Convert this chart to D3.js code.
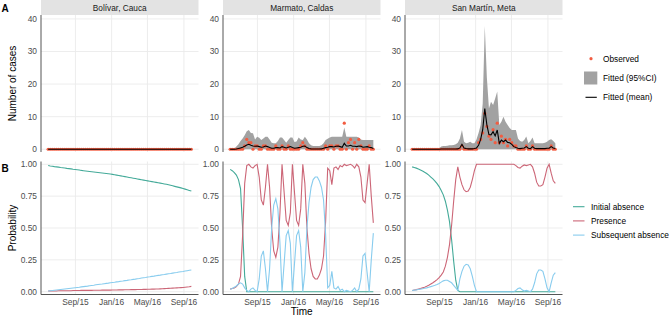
<!DOCTYPE html>
<html>
<head>
<meta charset="utf-8">
<script src="https://cdn.jsdelivr.net/npm/d3@7"></script>
<style>
  body { margin: 0; background: #fff; }
  svg { font-family: "Liberation Sans", Arial, sans-serif; display: block; }
</style>
</head>
<body>
<svg id="chart" width="669" height="316"></svg>
<script>
// sites (facets)
const sites = ["Bolívar, Cauca", "Marmato, Caldas", "San Martín, Meta"];

// weekly time points, first week Jun 2015 to last week Sep 2016
const weeks = d3.timeMonday.range(new Date(2015, 5, 1), new Date(2016, 8, 27));

const xTickDates = [new Date(2015, 8, 1), new Date(2016, 0, 1), new Date(2016, 4, 1), new Date(2016, 8, 1)];
const xTickLabels = ["Sep/15", "Jan/16", "May/16", "Sep/16"];
const casesTicks = [0, 10, 20, 30, 40];
const probTicks = [0, 0.25, 0.5, 0.75, 1];

// ---- panel A: observed cases and fitted model ----
const bolivarZeros = [
  0,0,0,0,0,0,0,0,0,0, 0,0,0,0,0,0,0,0,0,0, 0,0,0,0,0,0,0,0,0,0,
  0,0,0,0,0,0,0,0,0,0, 0,0,0,0,0,0,0,0,0,0, 0,0,0,0,0,0,0,0,0,0,
  0,0,0,0,0,0,0,0,0,0];

const marmatoObserved = [
  0,0,0,0,0,0,0,1,3,2, 2,0,1,1,0,0,1,1,0,0, 0,0,1,0,0,1,0,0,1,0,
  0,0,0,0,1,2,1,0,0,0, 0,0,0,0,0,0,1,0,1,1, 0,1,1,0,0,8,0,2,3,0,
  2,0,3,1,0,0,0,1,0,0];
const marmatoMean = [
  0,0,0,0.05,0.2,0.4,0.6,0.9,1.3,1.5, 1.2,1.0,0.9,1.0,0.8,0.6,0.7,1.0,0.8,0.5,
  0.3,0.3,0.5,0.5,0.4,0.8,0.6,0.4,0.6,0.8, 0.5,0.3,0.4,0.5,0.6,0.9,1.0,0.5,0.2,0.1,
  0.05,0.05,0.05,0.05,0.1,0.3,0.5,0.6,0.8,0.8, 0.7,0.9,1.0,0.8,0.6,1.8,1.0,1.0,1.2,0.9,
  0.9,0.8,1.0,0.9,0.6,0.7,0.8,0.6,0.5,0.2];
const marmatoUpper = [
  0.2,0.2,0.2,0.8,1.5,2.5,3.3,4.3,5.5,5.9, 5.0,4.9,3.0,3.8,3.5,2.8,3.3,3.8,3.8,3.0,
  2.0,1.8,1.8,2.5,3.6,3.6,2.8,2.0,2.8,3.6, 3.6,2.2,2.4,3.6,3.0,2.8,3.8,3.0,1.8,1.2,
  1.0,1.0,1.0,1.0,1.2,1.8,2.8,3.2,3.6,3.8, 3.8,3.8,3.8,3.8,3.8,6.7,3.8,3.8,3.8,3.8,
  3.8,3.8,3.6,3.0,2.8,2.8,2.8,2.8,2.8,2.8];

const sanMartinObserved = [
  0,0,0,0,0,0,0,0,0,0, 0,0,0,0,0,0,0,0,0,0, 0,0,0,0,1,0,0,0,0,0,
  0,0,2,3,5,11,7,4,3,6, 2,8,2,4,2,3,1,3,2,1, 1,0,0,0,0,1,0,0,1,0,
  0,0,0,0,0,0,0,1,0,0];
const sanMartinMean = [
  0,0,0,0,0,0,0,0,0,0, 0,0,0,0,0.05,0.05,0.05,0.05,0.05,0.05,
  0.05,0.05,0.1,0.4,1.5,0.4,0.2,0.1,0.1,0.1, 0.2,0.4,1.2,3.0,6.0,12.5,7.5,4.5,4.4,5.4,
  4.1,5.9,1.8,2.8,2.3,2.8,2.1,2.0,1.5,0.8, 0.5,0.3,0.2,0.3,0.4,0.8,0.3,0.2,0.8,0.3,
  0.2,0.2,0.2,0.2,0.2,0.3,0.3,0.8,0.4,0.2];
const sanMartinUpper = [
  0.1,0.1,0.1,0.1,0.1,0.1,0.1,0.1,0.1,0.1, 0.1,0.1,0.1,0.3,0.8,1.0,1.0,1.1,1.2,1.2,
  1.3,1.5,2.0,3.3,5.9,2.3,1.8,2.0,2.3,1.8, 1.8,3.0,5.0,7.4,14,37.8,22,12.5,14.6,13.6,
  15.6,17.7,7.4,8.4,10.0,8.4,7.4,6.5,5.9,5.9, 5.9,3.3,2.5,2.3,2.8,3.9,1.8,2.5,3.6,1.8,
  1.8,1.8,1.8,1.8,2.0,2.3,2.8,3.1,2.5,1.8];

const observed = [bolivarZeros, marmatoObserved, sanMartinObserved];
const fittedMean = [bolivarZeros, marmatoMean, sanMartinMean];
const fittedLower = [bolivarZeros, bolivarZeros, bolivarZeros];
const fittedUpper = [bolivarZeros, marmatoUpper, sanMartinUpper];

// ---- panel B: state probabilities ----
const bolivarInitial = [
  .990,.987,.985,.982,.980,.978,.975,.973,.971,.968, .966,.964,.961,.959,.957,.955,.952,.950,.948,.946,
  .944,.942,.940,.938,.936,.934,.932,.930,.928,.926, .924,.921,.918,.915,.912,.909,.906,.903,.900,.897,
  .894,.891,.888,.885,.882,.879,.876,.873,.870,.867, .864,.861,.858,.855,.852,.849,.846,.843,.839,.835,
  .831,.827,.823,.819,.815,.810,.805,.800,.795,.790];
const bolivarPresence = [
  .005,.005,.006,.006,.006,.007,.007,.007,.008,.008, .008,.008,.009,.009,.009,.009,.010,.010,.010,.010,
  .010,.010,.011,.011,.011,.011,.012,.012,.012,.012, .012,.013,.013,.013,.014,.014,.014,.015,.015,.015,
  .016,.016,.016,.017,.017,.017,.018,.018,.019,.019, .020,.020,.021,.021,.022,.023,.024,.025,.026,.027,
  .028,.029,.030,.031,.032,.033,.035,.037,.039,.042];
const bolivarSubsequent = [
  .005,.007,.009,.011,.013,.015,.017,.019,.021,.023, .025,.027,.029,.031,.033,.035,.038,.040,.042,.044,
  .047,.049,.051,.054,.056,.058,.060,.063,.065,.067, .070,.072,.074,.077,.079,.082,.084,.087,.089,.092,
  .094,.097,.099,.102,.104,.107,.110,.112,.115,.117, .120,.122,.125,.128,.130,.133,.135,.138,.141,.143,
  .146,.149,.151,.154,.157,.159,.162,.165,.168,.170];

const marmatoInitial = [
  .96,.95,.935,.915,.88,.81,.5,.12,0,0, 0,0,0,0,0,0,0,0,0,0, 0,0,0,0,0,0,0,0,0,0,
  0,0,0,0,0,0,0,0,0,0, 0,0,0,0,0,0,0,0,0,0, 0,0,0,0,0,0,0,0,0,0,
  0,0,0,0,0,0,0,0,0,0];
const marmatoPresence = [
  .02,.025,.03,.04,.06,.12,.44,.85,.99,1, .98,.97,.99,1,.9,.72,.68,.82,1,.82,
  .5,.32,.27,.35,.62,1,.78,.56,.52,.62, 1,.78,.56,.52,.65,1,.85,.5,.3,.18,
  .12,.1,.1,.13,.18,.28,.55,.97,.95,.84, .97,.98,.96,.99,.98,1,.99,.995,1,.99,
  .97,1,.98,.9,.72,.7,.85,1,.75,.54];
const marmatoSubsequent = [
  .02,.025,.035,.045,.06,.07,.06,.03,.01,0, .02,.03,.01,0,.1,.28,.32,.18,0,.18,
  .5,.68,.73,.65,.38,0,.22,.44,.48,.38, 0,.22,.44,.48,.35,0,.15,.5,.7,.82,
  .88,.9,.9,.87,.82,.72,.45,.03,.05,.16, .03,.02,.04,.01,.02,0,.01,.005,0,.01,
  .03,0,.02,.1,.28,.3,.15,0,.25,.46];

const sanMartinInitial = [
  .98,.975,.97,.963,.955,.947,.938,.928,.915,.9, .885,.868,.848,.825,.795,.76,.71,.64,.55,.41,
  .24,.09,.01,0,0,0,0,0,0,0, 0,0,0,0,0,0,0,0,0,0, 0,0,0,0,0,0,0,0,0,0,
  0,0,0,0,0,0,0,0,0,0, 0,0,0,0,0,0,0,0,0,0];
const sanMartinPresence = [
  .01,.013,.016,.02,.025,.03,.035,.042,.05,.06, .07,.082,.095,.11,.13,.155,.2,.27,.37,.52,
  .71,.88,.98,.9,.84,.8,.785,.79,.82,.88, .95,1,1,1,1,1,1,1,1,1,
  1,1,1,1,1,1,1,1,1,1, .99,.975,.97,.985,.995,.99,.995,1,.98,.93,
  .86,.83,.83,.84,.9,.97,1,.93,.87,.85];
const sanMartinSubsequent = [
  .01,.012,.014,.017,.02,.023,.027,.03,.035,.04, .045,.05,.057,.065,.075,.085,.09,.09,.08,.07,
  .05,.03,.01,.1,.16,.2,.215,.21,.18,.12, .05,0,0,0,0,0,0,0,0,0,
  0,0,0,0,0,0,0,0,0,0, .01,.025,.03,.015,.005,.01,.005,0,.02,.07,
  .14,.17,.17,.16,.1,.03,0,.07,.13,.15];

const initialAbsence = [bolivarInitial, marmatoInitial, sanMartinInitial];
const presence = [bolivarPresence, marmatoPresence, sanMartinPresence];
const subsequentAbsence = [bolivarSubsequent, marmatoSubsequent, sanMartinSubsequent];

const stateNames = ["Initial absence", "Presence", "Subsequent absence"];
const stateColors = ["#44AA99", "#CC6677", "#88CCEE"];

const svg = d3.select("#chart");

const panelW = 157.5, panelStep = 182, panelX0 = 41;
const topY = [152, 15], botY = [294.5, 161.5];
const gridCol = "#ebebeb", axisCol = "#555", tickCol = "#4d4d4d";

const pad = (weeks[weeks.length - 1] - weeks[0]) * 0.05;
const yCases = d3.scaleLinear().domain([-0.85, 41.2]).range(topY);
const yProb = d3.scaleLinear().domain([-0.022, 1.022]).range(botY);

sites.forEach((site, i) => {
  const left = panelX0 + i * panelStep;
  const x = d3.scaleTime()
    .domain([new Date(+weeks[0] - pad), new Date(+weeks[weeks.length - 1] + pad)])
    .range([left, left + panelW]);

  // strip
  svg.append("rect").attr("x", left).attr("y", 0).attr("width", panelW).attr("height", 15)
    .attr("fill", "#e3e3e3");
  svg.append("text").attr("x", left + panelW / 2).attr("y", 10.8)
    .attr("text-anchor", "middle").attr("font-size", 8.3).attr("fill", "#1a1a1a").text(site);

  // ---- top panel ----
  const gTop = svg.append("g");
  gTop.selectAll(".hg").data(casesTicks).join("line")
    .attr("x1", left).attr("x2", left + panelW)
    .attr("y1", d => yCases(d)).attr("y2", d => yCases(d))
    .attr("stroke", gridCol).attr("stroke-width", 0.9);
  gTop.selectAll(".vg").data(xTickDates).join("line")
    .attr("x1", d => x(d)).attr("x2", d => x(d))
    .attr("y1", topY[1]).attr("y2", topY[0])
    .attr("stroke", gridCol).attr("stroke-width", 0.9);

  const rows = weeks.map((w, k) => ({
    date: w, obs: observed[i][k], mean: fittedMean[i][k],
    lo: fittedLower[i][k], hi: fittedUpper[i][k]
  }));

  gTop.append("path").datum(rows)
    .attr("d", d3.area().x(d => x(d.date)).y0(d => yCases(d.lo)).y1(d => yCases(d.hi)))
    .attr("fill", "#a2a2a2");
  gTop.selectAll(".pt").data(rows).join("circle")
    .attr("cx", d => x(d.date)).attr("cy", d => yCases(d.obs))
    .attr("r", 1.6).attr("fill", "#F25C41");
  gTop.append("path").datum(rows)
    .attr("d", d3.line().x(d => x(d.date)).y(d => yCases(d.mean)))
    .attr("fill", "none").attr("stroke", "#000").attr("stroke-width", 1.1);

  gTop.append("line").attr("x1", left).attr("x2", left).attr("y1", topY[1]).attr("y2", topY[0])
    .attr("stroke", axisCol).attr("stroke-width", 1);
  gTop.selectAll(".yt").data(casesTicks).join("text")
    .attr("x", left - 4).attr("y", d => yCases(d)).attr("dy", "0.35em")
    .attr("text-anchor", "end").attr("font-size", 8.4).attr("fill", tickCol).text(d => d);

  // ---- bottom panel ----
  const gBot = svg.append("g");
  gBot.selectAll(".hg").data(probTicks).join("line")
    .attr("x1", left).attr("x2", left + panelW)
    .attr("y1", d => yProb(d)).attr("y2", d => yProb(d))
    .attr("stroke", gridCol).attr("stroke-width", 0.9);
  gBot.selectAll(".vg").data(xTickDates).join("line")
    .attr("x1", d => x(d)).attr("x2", d => x(d))
    .attr("y1", botY[1]).attr("y2", botY[0])
    .attr("stroke", gridCol).attr("stroke-width", 0.9);

  const series = [initialAbsence[i], presence[i], subsequentAbsence[i]];
  series.forEach((vals, s) => {
    gBot.append("path").datum(vals)
      .attr("d", d3.line().x((d, k) => x(weeks[k])).y(d => yProb(d)))
      .attr("fill", "none").attr("stroke", stateColors[s]).attr("stroke-width", 1.1);
  });

  gBot.append("line").attr("x1", left).attr("x2", left).attr("y1", botY[1]).attr("y2", botY[0])
    .attr("stroke", axisCol).attr("stroke-width", 1);
  gBot.append("line").attr("x1", left).attr("x2", left + panelW).attr("y1", botY[0]).attr("y2", botY[0])
    .attr("stroke", axisCol).attr("stroke-width", 1);
  gBot.selectAll(".yt").data(probTicks).join("text")
    .attr("x", left - 4).attr("y", d => yProb(d)).attr("dy", "0.35em")
    .attr("text-anchor", "end").attr("font-size", 8.4).attr("fill", tickCol).text(d => d.toFixed(2));
  gBot.selectAll(".xt").data(xTickDates).join("text")
    .attr("x", d => x(d)).attr("y", 304.8)
    .attr("text-anchor", "middle").attr("font-size", 8.4).attr("fill", tickCol)
    .text((d, k) => xTickLabels[k]);
});

// panel letters and axis titles
svg.append("text").attr("x", 1.5).attr("y", 11.5).attr("font-size", 10).attr("font-weight", "bold").text("A");
svg.append("text").attr("x", 1.5).attr("y", 171.5).attr("font-size", 10).attr("font-weight", "bold").text("B");
svg.append("text").attr("transform", "translate(15.5," + ((topY[0] + topY[1]) / 2) + ") rotate(-90)")
  .attr("text-anchor", "middle").attr("font-size", 10).text("Number of cases");
svg.append("text").attr("transform", "translate(15.5," + ((botY[0] + botY[1]) / 2) + ") rotate(-90)")
  .attr("text-anchor", "middle").attr("font-size", 10).text("Probability");
svg.append("text").attr("x", panelX0 + panelStep + panelW / 2).attr("y", 315)
  .attr("text-anchor", "middle").attr("font-size", 10).text("Time");

// legend A
const legA = svg.append("g").attr("font-size", 8.3);
legA.append("circle").attr("cx", 591).attr("cy", 58.7).attr("r", 1.6).attr("fill", "#F25C41");
legA.append("text").attr("x", 603).attr("y", 58.7).attr("dy", "0.35em").text("Observed");
legA.append("rect").attr("x", 584).attr("y", 71.5).attr("width", 13.3).attr("height", 13).attr("fill", "#a2a2a2");
legA.append("text").attr("x", 603).attr("y", 78).attr("dy", "0.35em").text("Fitted (95%CI)");
legA.append("line").attr("x1", 585.5).attr("x2", 596.8).attr("y1", 97.3).attr("y2", 97.3)
  .attr("stroke", "#000").attr("stroke-width", 1.1);
legA.append("text").attr("x", 603).attr("y", 97.3).attr("dy", "0.35em").text("Fitted (mean)");

// legend B
const legB = svg.append("g").attr("font-size", 8.3);
stateNames.forEach((name, s) => {
  const y = 206.7 + s * 14.2;
  legB.append("line").attr("x1", 573).attr("x2", 584.5).attr("y1", y).attr("y2", y)
    .attr("stroke", stateColors[s]).attr("stroke-width", 1.1);
  legB.append("text").attr("x", 591).attr("y", y).attr("dy", "0.35em").text(name);
});
</script>
</body>
</html>
